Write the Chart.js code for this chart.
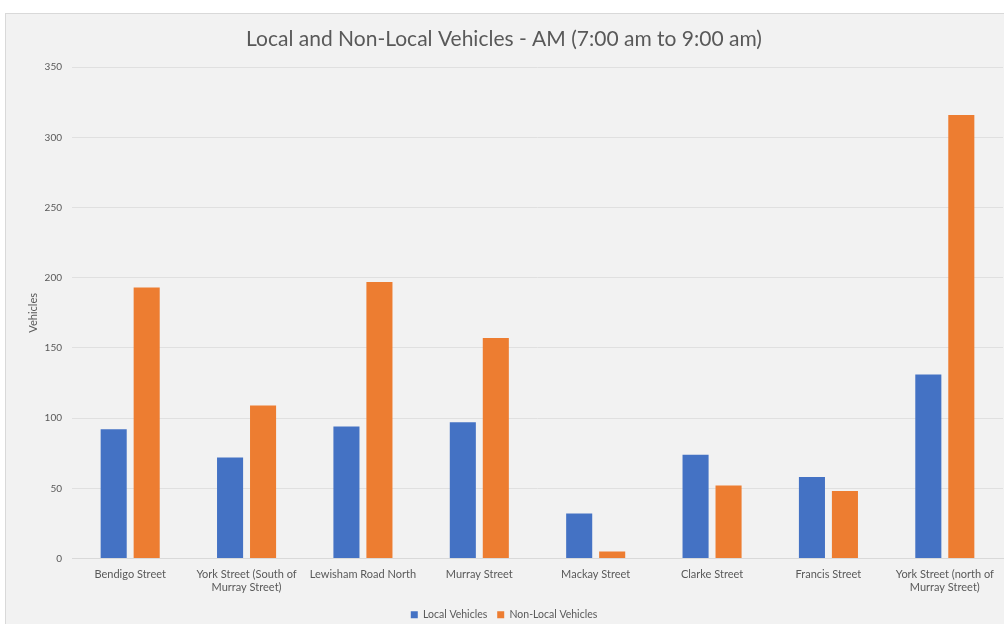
<!DOCTYPE html>
<html>
<head>
<meta charset="utf-8">
<script src="https://cdn.jsdelivr.net/npm/chart.js@4.4.1/dist/chart.umd.min.js"></script>
<style>
html,body{margin:0;padding:0;background:#fff;}
#wrap{position:absolute;left:0;top:0;width:1004px;height:624px;}
</style>
</head>
<body>
<div id="wrap"><canvas id="c" width="1004" height="624"></canvas></div>
<script>
const categories = [
  'Bendigo Street',
  ['York Street (South of', 'Murray Street)'],
  'Lewisham Road North',
  'Murray Street',
  'Mackay Street',
  'Clarke Street',
  'Francis Street',
  ['York Street (north of', 'Murray Street)']
];
const localVehicles = [92, 72, 94, 97, 32, 74, 58, 131];
const nonLocalVehicles = [193, 109, 197, 157, 5, 52, 48, 316];
const yTicks = [0, 50, 100, 150, 200, 250, 300, 350];

const bgPlugin = {
  id: 'bg',
  beforeDraw(chart) {
    const ctx = chart.ctx;
    ctx.save();
    ctx.fillStyle = '#ffffff';
    ctx.fillRect(0, 0, chart.width, chart.height);
    ctx.fillStyle = '#f2f2f2';
    ctx.fillRect(5, 13, chart.width - 5, chart.height - 13);
    ctx.strokeStyle = '#d9d9d9';
    ctx.lineWidth = 1;
    ctx.strokeRect(5.5, 13.5, chart.width - 5, chart.height - 13);
    ctx.restore();
  }
};

const txt = '#595959';
new Chart(document.getElementById('c'), {
  type: 'bar',
  data: {
    labels: categories,
    datasets: [
      { label: 'Local Vehicles', data: localVehicles, backgroundColor: '#4472C4', categoryPercentage: 0.567, barPercentage: 0.79 },
      { label: 'Non-Local Vehicles', data: nonLocalVehicles, backgroundColor: '#ED7D31', categoryPercentage: 0.567, barPercentage: 0.79 }
    ]
  },
  plugins: [bgPlugin],
  options: {
    responsive: false,
    animation: false,
    devicePixelRatio: 1,
    layout: { padding: { left: 5, right: 1, top: 27, bottom: -6 } },
    plugins: {
      title: {
        display: true,
        text: 'Local and Non-Local Vehicles - AM (7:00 am to 9:00 am)',
        color: txt,
        font: { family: 'Lato', size: 21, weight: 'normal' },
        padding: { top: 0, bottom: 15 }
      },
      legend: {
        position: 'bottom',
        labels: {
          color: txt,
          font: { family: 'Lato', size: 10.5 },
          boxWidth: 7,
          boxHeight: 7,
          padding: 10
        }
      },
      tooltip: { enabled: false }
    },
    scales: {
      x: {
        grid: { display: false, drawTicks: false },
        border: { display: true, color: '#d9d9d9' },
        ticks: {
          color: txt,
          font: { family: 'Lato', size: 11 },
          maxRotation: 0,
          autoSkip: false,
          padding: 9
        },
        afterFit(s) { s.height = 41; }
      },
      y: {
        min: 0,
        max: 350,
        afterBuildTicks(s) { s.ticks = yTicks.map(v => ({ value: v })); },
        grid: { color: '#e0e0e0', drawTicks: false },
        border: { display: false },
        ticks: {
          color: txt,
          font: { family: 'Lato', size: 10 },
          padding: 10
        },
        title: {
          display: true,
          text: 'Vehicles',
          color: txt,
          font: { family: 'Lato', size: 11 },
          padding: { top: 22, bottom: 0 }
        },
        afterFit(s) { s.width = 67; }
      }
    }
  }
});
</script>
</body>
</html>
